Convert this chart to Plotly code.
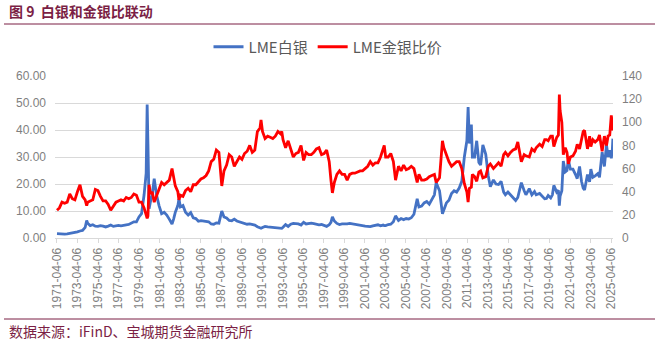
import plotly.graph_objects as go

# LME silver (USD/oz) and gold/silver price ratio, sampled through time
dates = [
    "1971-04-06", "1971-07-01", "1971-10-01",
    "1972-01-03", "1972-04-03", "1972-07-03", "1972-10-02",
    "1973-01-02", "1973-04-02", "1973-07-02", "1973-10-01",
    "1974-01-02", "1974-02-26", "1974-04-01", "1974-07-01", "1974-10-01", "1974-12-30",
    "1975-04-01", "1975-07-01", "1975-10-01",
    "1976-01-02", "1976-04-01", "1976-07-01", "1976-10-01",
    "1977-01-03", "1977-04-01", "1977-07-01", "1977-10-03",
    "1978-01-03", "1978-04-03", "1978-07-03", "1978-10-02",
    "1979-01-02", "1979-04-02", "1979-07-02", "1979-10-01", "1979-12-14",
    "1980-01-18", "1980-02-15", "1980-03-27", "1980-05-15", "1980-07-15", "1980-09-25", "1980-12-15",
    "1981-03-16", "1981-06-15", "1981-09-15", "1981-12-15",
    "1982-03-15", "1982-06-21", "1982-08-16", "1982-10-15",
    "1983-01-14", "1983-02-22", "1983-04-15", "1983-07-15", "1983-10-14",
    "1984-01-16", "1984-04-16", "1984-07-16", "1984-10-15",
    "1985-01-15", "1985-04-15", "1985-07-15", "1985-10-15",
    "1986-01-15", "1986-04-15", "1986-07-15", "1986-10-15",
    "1987-01-15", "1987-04-27", "1987-07-15", "1987-10-15",
    "1988-01-15", "1988-04-15", "1988-07-15", "1988-10-14",
    "1989-01-16", "1989-04-14", "1989-07-14", "1989-10-16",
    "1990-01-15", "1990-04-16", "1990-07-16", "1990-10-15",
    "1991-01-15", "1991-02-22", "1991-04-15", "1991-07-15", "1991-10-15",
    "1992-01-15", "1992-04-15", "1992-07-15", "1992-10-15",
    "1993-01-15", "1993-03-01", "1993-04-15", "1993-07-15", "1993-10-15",
    "1994-01-14", "1994-04-15", "1994-07-15", "1994-10-14",
    "1995-01-16", "1995-04-18", "1995-07-14", "1995-10-16",
    "1996-01-15", "1996-04-15", "1996-07-15", "1996-10-15",
    "1997-01-15", "1997-04-15", "1997-07-15", "1997-10-15", "1997-12-15",
    "1998-02-05", "1998-04-15", "1998-07-15", "1998-10-15",
    "1999-01-15", "1999-04-15", "1999-07-15", "1999-10-15",
    "2000-01-14", "2000-04-14", "2000-07-14", "2000-10-16",
    "2001-01-15", "2001-04-17", "2001-07-16", "2001-10-15",
    "2002-01-15", "2002-04-15", "2002-07-15", "2002-10-15",
    "2003-01-15", "2003-02-24", "2003-04-15", "2003-07-15", "2003-10-15",
    "2004-01-15", "2004-04-02", "2004-07-15", "2004-10-15",
    "2005-01-14", "2005-04-15", "2005-07-15", "2005-10-14",
    "2006-01-16", "2006-05-12", "2006-07-14", "2006-10-16",
    "2007-01-15", "2007-04-16", "2007-07-16", "2007-10-15",
    "2008-01-15", "2008-03-17", "2008-07-15", "2008-10-27", "2008-12-15",
    "2009-03-16", "2009-06-15", "2009-09-15", "2009-12-15",
    "2010-03-15", "2010-06-15", "2010-09-15", "2010-12-15",
    "2011-03-15", "2011-04-28", "2011-06-15", "2011-08-22", "2011-09-26", "2011-12-15",
    "2012-02-28", "2012-05-15", "2012-07-16", "2012-10-04", "2012-12-14",
    "2013-01-15", "2013-04-15", "2013-06-27", "2013-10-15",
    "2014-01-15", "2014-04-15", "2014-07-15", "2014-10-15", "2014-12-15",
    "2015-03-16", "2015-06-15", "2015-09-15", "2015-12-15",
    "2016-02-29", "2016-07-05", "2016-10-14", "2016-12-15",
    "2017-04-13", "2017-07-14", "2017-10-16", "2017-12-15",
    "2018-04-16", "2018-07-16", "2018-10-15", "2018-12-14",
    "2019-02-15", "2019-05-15", "2019-07-15", "2019-09-04", "2019-12-16",
    "2020-02-14", "2020-03-18", "2020-04-15", "2020-06-15", "2020-08-06", "2020-10-15", "2020-12-15",
    "2021-02-01", "2021-04-15", "2021-07-15", "2021-10-15", "2021-12-15",
    "2022-03-08", "2022-05-16", "2022-07-15", "2022-09-01", "2022-12-15",
    "2023-02-28", "2023-04-14", "2023-06-23", "2023-09-15", "2023-12-15",
    "2024-02-15", "2024-05-20", "2024-08-07", "2024-10-22", "2024-12-16",
    "2025-02-14", "2025-04-10", "2025-05-15", "2025-06-06",
]

silver = [
    1.60, 1.55, 1.35,
    1.45, 1.55, 1.70, 1.90,
    2.00, 2.25, 2.60, 2.80,
    3.90, 6.50, 5.50, 4.60, 4.90, 4.40,
    4.30, 4.60, 4.40,
    4.10, 4.40, 4.80, 4.30,
    4.40, 4.70, 4.50, 4.80,
    4.90, 5.00, 5.40, 6.00,
    6.00, 7.80, 9.00, 16.00, 24.00,
    49.45, 35.00, 10.80, 13.50, 16.00, 22.00, 16.00,
    12.00, 9.00, 9.50, 8.50,
    7.00, 5.20, 7.00, 9.50,
    12.00, 14.50, 11.50, 12.00, 9.50,
    8.50, 9.40, 7.50, 7.20,
    6.20, 6.40, 6.20, 6.10,
    6.00, 5.20, 5.10, 5.60,
    5.50, 10.00, 7.80, 7.40,
    6.50, 6.40, 7.00, 6.30,
    6.00, 5.70, 5.20, 5.10,
    5.20, 5.00, 4.80, 4.20,
    3.90, 3.60, 3.90, 4.30, 4.10,
    4.00, 3.95, 3.90, 3.75,
    3.70, 3.60, 4.00, 5.00, 4.30,
    5.10, 5.40, 5.30, 5.20,
    4.80, 5.80, 5.20, 5.40,
    5.50, 5.30, 5.00, 4.90,
    5.00, 4.70, 4.30, 4.90, 5.80,
    7.80, 6.30, 5.40, 5.00,
    5.20, 5.10, 5.20, 5.40,
    5.20, 5.00, 5.00, 4.80,
    4.60, 4.40, 4.30, 4.20,
    4.50, 4.60, 4.90, 4.50,
    4.80, 4.60, 4.60, 5.00, 5.10,
    6.00, 8.20, 6.50, 7.20,
    6.80, 7.20, 7.00, 7.50,
    8.80, 14.50, 11.50, 11.80,
    13.00, 13.50, 12.50, 14.00,
    16.00, 20.50, 17.50, 9.00, 10.50,
    13.00, 14.00, 16.50, 17.50,
    17.00, 18.50, 21.00, 30.00,
    36.00, 48.50, 35.00, 42.00, 30.00, 30.00,
    36.00, 28.00, 27.00, 34.50, 32.00,
    31.00, 23.00, 19.00, 21.50,
    20.00, 19.80, 21.00, 17.00, 16.00,
    17.00, 16.00, 14.80, 13.90,
    15.00, 20.50, 17.50, 16.00,
    18.30, 16.00, 17.20, 16.00,
    16.50, 15.50, 14.50, 14.60,
    15.70, 14.80, 16.00, 19.50, 17.00,
    17.70, 12.00, 15.50, 17.50, 28.50, 24.50, 25.00,
    29.00, 25.50, 25.50, 23.50, 22.00,
    26.50, 21.00, 18.50, 17.80, 23.50,
    20.80, 25.50, 22.50, 23.00, 23.80,
    22.50, 31.80, 26.50, 34.50, 30.00,
    32.50, 29.50, 32.30, 36.80,
]

ratio = [
    24, 26, 31,
    30, 31, 38, 34,
    33, 40, 46, 36,
    33, 28, 31, 32, 33, 42,
    41, 36, 32,
    32, 29, 24, 27,
    31, 32, 33, 32,
    35, 34, 35, 38,
    37, 31, 31, 26, 20,
    17, 19, 46, 38, 40, 31, 36,
    42, 48, 46, 48,
    50, 60, 52, 45,
    40, 33, 37, 36, 41,
    43, 40, 46, 46,
    49, 51, 52, 54,
    58, 66, 68, 76,
    74, 45, 58, 63,
    72, 70, 62, 66,
    70, 68, 73, 75,
    80, 74, 76, 92,
    95, 102, 92, 86, 88,
    87, 86, 88, 92,
    90, 92, 85, 78, 84,
    76, 70, 73, 74,
    80, 67, 74, 72,
    72, 74, 77, 78,
    72, 73, 76, 66, 50,
    39, 48, 55, 58,
    55, 55, 50, 55,
    56, 56, 57, 58,
    58, 60, 62, 66,
    63, 65, 65, 70,
    76, 80, 70, 70, 73,
    66, 50, 62, 58,
    63, 59, 60, 62,
    60, 48, 55, 50,
    50, 51, 53, 54,
    55, 48, 52, 84, 78,
    72, 66, 62, 64,
    66, 66, 60, 47,
    40, 31, 43, 44, 55, 53,
    49, 57, 58, 52, 53,
    53, 62, 64, 60,
    63, 65, 62, 72, 74,
    71, 74, 76, 77,
    83, 66, 72, 71,
    70, 77, 75, 78,
    81, 79, 85, 85,
    84, 88, 88, 79, 87,
    89, 124, 110, 100, 72, 78, 74,
    64, 70, 71, 75, 81,
    77, 86, 92, 93, 77,
    88, 79, 85, 83, 85,
    89, 75, 88, 80, 88,
    89, 106, 99, 93,
]

W, H = 659, 349
ML, MR, MT, MB = 55, 46, 76, 111
PW, PH = W - ML - MR, H - MT - MB

MAROON = "#7B1F45"
GRID = "#D9D9D9"
TICK_GREY = "#7F7F7F"


def px_x(px):
    return (px - ML) / PW


def px_y(py):
    return (H - MB - py) / PH


fig = go.Figure()
fig.add_trace(go.Scatter(
    x=dates, y=silver, name="LME白银", mode="lines",
    line=dict(color="#4472C4", width=2.8), yaxis="y",
))
fig.add_trace(go.Scatter(
    x=dates, y=ratio, name="LME金银比价", mode="lines",
    line=dict(color="#FF0000", width=2.8), yaxis="y2",
))

tick_font = dict(family="Liberation Sans, Arial, sans-serif", size=12, color=TICK_GREY)

fig.update_layout(
    width=W, height=H,
    margin=dict(l=ML, r=MR, t=MT, b=MB),
    paper_bgcolor="white", plot_bgcolor="white",
    showlegend=True,
    legend=dict(
        orientation="h", x=px_x(328), xanchor="center",
        y=px_y(47), yanchor="middle",
        font=dict(family="Noto Sans CJK SC", size=15, color="#595959"),
        bgcolor="rgba(0,0,0,0)",
    ),
    xaxis=dict(
        type="date",
        range=["1971-01-25", "2025-06-10"],
        tick0="1971-04-06", dtick="M24", tickformat="%Y-%m-%d",
        tickangle=-90, tickfont=tick_font,
        ticks="outside", ticklen=4, tickcolor=GRID,
        showline=True, linecolor=GRID, linewidth=1,
        showgrid=False, zeroline=False,
    ),
    yaxis=dict(
        range=[0, 60], dtick=10, tickformat=".2f",
        tickfont=tick_font, ticklabelstandoff=8,
        showgrid=True, gridcolor=GRID, gridwidth=1,
        zeroline=False, showline=False,
    ),
    yaxis2=dict(
        overlaying="y", side="right",
        range=[0, 140], dtick=20,
        tickfont=tick_font, ticklabelstandoff=8,
        showgrid=False, zeroline=False, showline=False,
    ),
    annotations=[
        dict(
            text="<b>图\u00a09\u00a0\u00a0白银和金银比联动</b>", xref="paper", yref="paper",
            x=px_x(7), y=px_y(11), xanchor="left", yanchor="middle",
            showarrow=False,
            font=dict(family="Noto Sans CJK SC", size=14, color=MAROON),
        ),
        dict(
            text="数据来源：iFinD、宝城期货金融研究所", xref="paper", yref="paper",
            x=px_x(7), y=px_y(331), xanchor="left", yanchor="middle",
            showarrow=False,
            font=dict(family="Noto Sans CJK SC", size=14, color=MAROON),
        ),
    ],
    shapes=[
        dict(type="line", xref="paper", yref="paper",
             x0=px_x(4), x1=px_x(655), y0=px_y(24), y1=px_y(24),
             line=dict(color=MAROON, width=1)),
        dict(type="line", xref="paper", yref="paper",
             x0=px_x(4), x1=px_x(655), y0=px_y(319), y1=px_y(319),
             line=dict(color=MAROON, width=1)),
    ],
)

fig.write_html("out.html")
